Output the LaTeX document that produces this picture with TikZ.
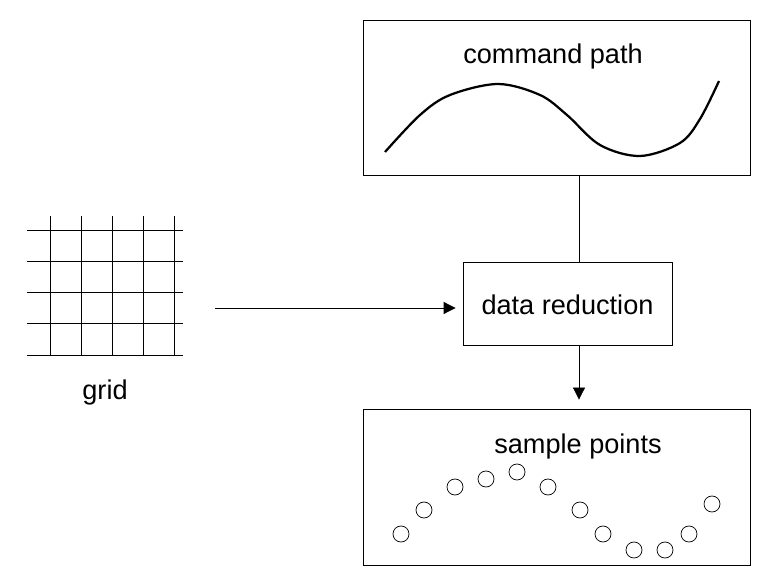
\documentclass[tikz,border=0pt]{standalone}
\usepackage{fontspec}
\setmainfont{Liberation Sans}
\usetikzlibrary{arrows.meta}

\tikzset{
  box/.style={draw=black,line width=0.6pt,minimum width=9.675cm,minimum height=3.875cm},
  lbl/.style={font=\fontsize{19.3}{23}\selectfont},
  arr/.style={line width=0.6pt,-{Triangle[length=3mm,width=3mm]}},
  dot/.style={draw=black,line width=0.5pt,circle,minimum size=0.4cm,inner sep=0pt}
}

\begin{document}
\begin{tikzpicture}[scale=1]
\useasboundingbox (0,0) rectangle (19.25,14.575);

\node[box] (CMD) at (13.9125,12.1375) {};
\node[box,minimum height=3.9cm] (SMP) at (13.9125,2.4) {};
\node[draw=black,line width=0.6pt,minimum width=5.225cm,minimum height=2.075cm,lbl,text height=0.7cm,text depth=0.14cm] (DR) at (14.1875,6.9875) {data reduction};

\node[lbl] (cmdtxt) at (13.825,13.17) {command path};
\node[lbl] (smptxt) at (14.45,3.42) {sample points};
\node[lbl] (gridtxt) at (2.625,4.77) {grid};

% grid
\foreach \i in {0,...,4} {
  \draw[line width=0.6pt] (0.675,5.7+\i*0.78) -- (4.575,5.7+\i*0.78);
  \draw[line width=0.6pt] (1.25+\i*0.78,5.7) -- (1.25+\i*0.78,9.175);
}

% command path
\draw[line width=1.6pt] plot[smooth,tension=0.55] coordinates {(9.625,10.775) (10.5,11.7) (11.25,12.2) (12.45,12.475) (13.5,12.2) (14.175,11.7) (15.0,10.95) (16.0,10.675) (17.0,11.0) (17.5,11.6) (17.975,12.55)};

% sample points
\foreach \x/\y [count=\n] in {10.025/1.225,10.6/1.825,11.375/2.4,12.15/2.6,12.925/2.775,13.7/2.4,14.5/1.825,15.075/1.225,15.85/0.825,16.625/0.825,17.225/1.225,17.8/1.975}
  \node[dot] (p\n) at (\x,\y) {};

% connectors
\coordinate (tap) at (14.475,0);
\coordinate (gridR) at (5.375,6.875);
\draw[line width=0.6pt] (CMD.south -| tap) -- (DR.north -| tap);
\draw[arr,shorten >=0.225cm] (DR.south -| tap) -- (SMP.north -| tap);
\draw[arr,shorten >=0.175cm] (gridR) -- (DR.west |- gridR);
\end{tikzpicture}
\end{document}
